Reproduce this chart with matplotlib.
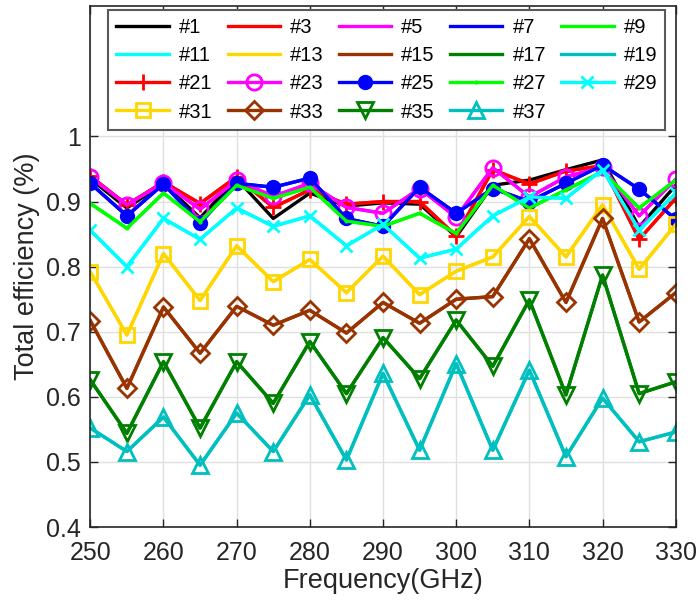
import matplotlib
matplotlib.use("Agg")
import matplotlib.pyplot as plt
import numpy as np

plt.rcParams['font.family'] = ['Liberation Sans', 'DejaVu Sans']

freq = [250, 255, 260, 265, 270, 275, 280, 285, 290, 295, 300, 305, 310, 315, 320, 325, 330]

s1 = [0.935, 0.890, 0.928, 0.875, 0.935, 0.874, 0.913, 0.893, 0.898, 0.896, 0.846, 0.925, 0.933, 0.949, 0.964, 0.861, 0.925]
s3 = [0.939, 0.895, 0.930, 0.897, 0.938, 0.891, 0.918, 0.896, 0.900, 0.900, 0.847, 0.949, 0.927, 0.947, 0.955, 0.842, 0.905]
s5 = [0.938, 0.895, 0.929, 0.888, 0.933, 0.908, 0.928, 0.891, 0.882, 0.920, 0.876, 0.952, 0.907, 0.938, 0.953, 0.878, 0.934]
s7 = [0.928, 0.878, 0.927, 0.867, 0.928, 0.922, 0.936, 0.874, 0.862, 0.922, 0.882, 0.920, 0.900, 0.928, 0.956, 0.919, 0.873]
s9 = [0.897, 0.859, 0.913, 0.869, 0.925, 0.905, 0.922, 0.870, 0.862, 0.882, 0.851, 0.925, 0.890, 0.918, 0.946, 0.890, 0.933]
s11 = [0.856, 0.800, 0.874, 0.842, 0.890, 0.862, 0.878, 0.832, 0.865, 0.813, 0.827, 0.878, 0.907, 0.905, 0.949, 0.856, 0.913]
s13 = [0.792, 0.695, 0.820, 0.748, 0.832, 0.777, 0.811, 0.760, 0.816, 0.757, 0.793, 0.815, 0.877, 0.815, 0.895, 0.796, 0.865]
s15 = [0.717, 0.613, 0.738, 0.667, 0.739, 0.710, 0.733, 0.698, 0.745, 0.713, 0.750, 0.754, 0.843, 0.745, 0.874, 0.715, 0.760]
s17 = [0.626, 0.544, 0.654, 0.552, 0.654, 0.590, 0.685, 0.605, 0.691, 0.628, 0.718, 0.647, 0.749, 0.603, 0.787, 0.605, 0.623]
s19 = [0.552, 0.516, 0.569, 0.495, 0.575, 0.516, 0.603, 0.503, 0.636, 0.518, 0.651, 0.518, 0.641, 0.508, 0.598, 0.531, 0.546]
s21 = s3
s23 = s5
s25 = s7
s27 = s9
s29 = s11
s31 = s13
s33 = s15
s35 = s17
s37 = s19

labels = ['#1', '#3', '#5', '#7', '#9', '#11', '#13', '#15', '#17', '#19',
          '#21', '#23', '#25', '#27', '#29', '#31', '#33', '#35', '#37']
series = [s1, s3, s5, s7, s9, s11, s13, s15, s17, s19,
          s21, s23, s25, s27, s29, s31, s33, s35, s37]

gold = (1.0, 0.84, 0.0)
brown = (0.6, 0.2, 0.0)
dgreen = (0.0, 0.5, 0.0)
teal = (0.0, 0.75, 0.75)
colors = ['black', 'red', 'magenta', 'blue', (0, 1, 0), 'cyan', gold, brown, dgreen, teal,
          'red', 'magenta', 'blue', (0, 1, 0), 'cyan', gold, brown, dgreen, teal]
markers = [None] * 10 + ['+', 'o', 'o', '.', 'x', 's', 'D', 'v', '^']
msizes = [0] * 10 + [11, 11, 9, 2, 8, 10, 9, 11, 11]
filled = [False] * 12 + [True] + [False] * 6

fig = plt.figure(figsize=(6.99, 6.05), dpi=100)
ax = fig.add_axes([0.1292, 0.1289, 0.8375, 0.8607])

handles = []
for i, (lab, ys) in enumerate(zip(labels, series)):
    c = colors[i]
    kw = dict(color=c, lw=2.4, label=lab)
    if markers[i] is not None:
        kw.update(marker=markers[i], markersize=msizes[i], markeredgewidth=2.0,
                  markeredgecolor=c,
                  markerfacecolor=c if filled[i] else 'none')
    h, = ax.plot(freq, ys, **kw)
    handles.append(h)

ax.set_xlim(250, 330)
ax.set_ylim(0.4, 1.2)
ax.set_xticks(np.arange(250, 331, 10))
ax.set_yticks([0.4, 0.5, 0.6, 0.7, 0.8, 0.9, 1.0])
ax.set_yticklabels(['0.4', '0.5', '0.6', '0.7', '0.8', '0.9', '1'])
ax.grid(True, color=(0.88, 0.88, 0.88), lw=1.0)
ax.set_axisbelow(True)
ax.tick_params(direction='in', top=True, right=True, labelsize=18, colors='0.15',
               length=6, width=1.0)
ax.tick_params(axis='x', pad=10)
ax.tick_params(axis='y', pad=7)
for sp in ax.spines.values():
    sp.set_color('0.15')
    sp.set_linewidth(1.2)
ax.set_xlabel('Frequency(GHz)', fontsize=19.5, color='0.15', labelpad=2)
ax.set_ylabel('Total efficiency (%)', fontsize=19.5, color='0.15', labelpad=4)

# reorder so legend reads row-wise with 5 columns
ncol = 5
nrow = 4
order = []
for j in range(ncol):
    for r in range(nrow):
        idx = r * ncol + j
        if idx < len(handles):
            order.append(idx)
leg = ax.legend([handles[k] for k in order], [labels[k] for k in order],
                ncol=ncol, loc='upper left', bbox_to_anchor=(0.155, 0.983),
                bbox_transform=fig.transFigure, borderaxespad=0,
                fontsize=14.5, handlelength=2.6, handletextpad=0.5,
                columnspacing=0.75, labelspacing=0.45, borderpad=0.4,
                fancybox=False, framealpha=1, edgecolor='0.35')
leg.get_frame().set_linewidth(1.5)

fig.savefig('out.png', dpi=100)
